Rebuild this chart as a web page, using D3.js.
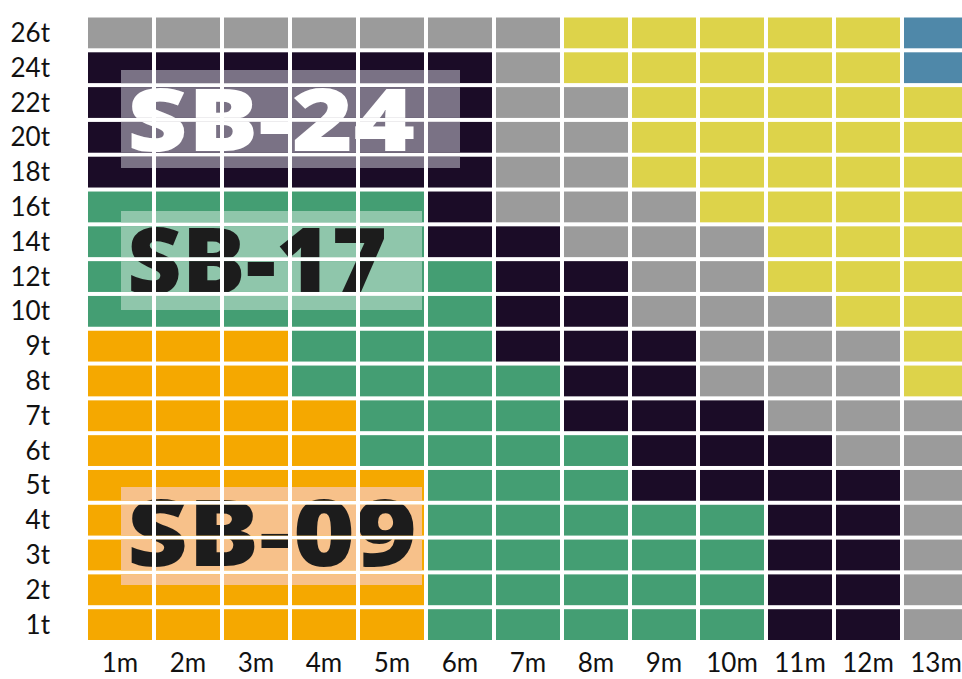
<!DOCTYPE html>
<html>
<head>
<meta charset="utf-8">
<script src="https://cdn.jsdelivr.net/npm/d3@7"></script>
<style>
  html, body { margin: 0; padding: 0; background: #ffffff; overflow: hidden; }
  svg { display: block; }
</style>
</head>
<body>
<svg id="chart" width="962" height="679"></svg>
<script>
// ---------------- DATA ----------------
const months = ["1m","2m","3m","4m","5m","6m","7m","8m","9m","10m","11m","12m","13m"];
const tonnages = ["26t","24t","22t","20t","18t","16t","14t","12t","10t","9t","8t","7t","6t","5t","4t","3t","2t","1t"];
// class per cell, one string per tonnage row (left to right over months)
// O = SB-09, G = SB-17, D = SB-24, X = grey, Y = yellow, B = blue
const gridRows = [
  "XXXXXXXYYYYYB", // 26t
  "DDDDDDXYYYYYB", // 24t
  "DDDDDDXXYYYYY", // 22t
  "DDDDDDXXYYYYY", // 20t
  "DDDDDDXXYYYYY", // 18t
  "GGGGGDXXXYYYY", // 16t
  "GGGGGDDXXXYYY", // 14t
  "GGGGGGDDXXYYY", // 12t
  "GGGGGGDDXXXYY", // 10t
  "OOOGGGDDDXXXY", // 9t
  "OOOGGGGDDXXXY", // 8t
  "OOOOGGGDDDXXX", // 7t
  "OOOOGGGGDDDXX", // 6t
  "OOOOOGGGDDDDX", // 5t
  "OOOOOGGGGGDDX", // 4t
  "OOOOOGGGGGDDX", // 3t
  "OOOOOGGGGGDDX", // 2t
  "OOOOOGGGGGDDX"  // 1t
];
const classKeys = ["O","G","D","X","Y","B"];
const annotations = ["SB-24","SB-17","SB-09"];

// ---------------- STYLE / LAYOUT ----------------
const classColors = ["#f5a800","#449e73","#1b0c27","#9b9b9b","#ddd34a","#4f88a9"];
const svg = d3.select("#chart");

const x = d3.scaleBand().domain(months).range([88, 88 + 13*68 - 4]).paddingInner(4/68).paddingOuter(0);
const y = d3.scaleBand().domain(tonnages).range([17.5, 640]).paddingInner(4/34.8).paddingOuter(0);
const color = d3.scaleOrdinal().domain(classKeys).range(classColors);

const cells = [];
tonnages.forEach((t, i) => {
  months.forEach((m, j) => {
    cells.push({ t, m, k: gridRows[i][j] });
  });
});

// clip path made of all cells so overlays leave the white gaps visible
const defs = svg.append("defs");
const clip = defs.append("clipPath").attr("id", "cellsClip");
clip.selectAll("rect").data(cells).join("rect")
  .attr("x", d => x(d.m)).attr("y", d => y(d.t))
  .attr("width", x.bandwidth()).attr("height", y.bandwidth());

svg.append("g").selectAll("rect").data(cells).join("rect")
  .attr("x", d => x(d.m)).attr("y", d => y(d.t))
  .attr("width", x.bandwidth()).attr("height", y.bandwidth())
  .attr("fill", d => color(d.k));

// annotation boxes
const annLayout = {
  "SB-24": { box: [121, 70, 460, 168], fill: "#7a7285", text: "#ffffff", tx: 127, ty: 151, fs: 86, tl: 288 },
  "SB-17": { box: [121, 211, 422, 310], fill: "#8fc6ab", text: "#1c1c1c", tx: 127, ty: 294, fs: 92, tl: 260 },
  "SB-09": { box: [121, 487, 422, 585], fill: "#f7c18a", text: "#1c1c1c", tx: 127, ty: 566, fs: 92, tl: 290 }
};
const ann = svg.append("g").attr("clip-path", "url(#cellsClip)");
annotations.forEach(a => {
  const L = annLayout[a];
  ann.append("rect")
    .attr("x", L.box[0]).attr("y", L.box[1])
    .attr("width", L.box[2] - L.box[0]).attr("height", L.box[3] - L.box[1])
    .attr("fill", L.fill);
  ann.append("text")
    .attr("x", L.tx).attr("y", L.ty)
    .attr("font-family", "'Open Sans', sans-serif")
    .attr("font-weight", 800)
    .attr("font-size", L.fs)
    .attr("textLength", L.tl)
    .attr("lengthAdjust", "spacingAndGlyphs")
    .attr("fill", L.text)
    .text(a);
});

// axes
const yAxis = d3.axisLeft(y).tickSize(0).tickPadding(0);
const gy = svg.append("g").attr("transform", "translate(50,0)").call(yAxis);
gy.select(".domain").remove();
gy.selectAll("text")
  .attr("font-family", "Lato, 'Open Sans', sans-serif")
  .attr("font-size", 26).attr("fill", "#111").attr("dy", "0.35em");

const xAxis = d3.axisBottom(x).tickSize(0).tickPadding(0);
const gx = svg.append("g").attr("transform", "translate(0,672)").call(xAxis);
gx.select(".domain").remove();
gx.selectAll("text")
  .attr("font-family", "Lato, 'Open Sans', sans-serif")
  .attr("font-size", 26).attr("fill", "#111").attr("dy", 0)
  .attr("y", 0);
</script>
</body>
</html>
